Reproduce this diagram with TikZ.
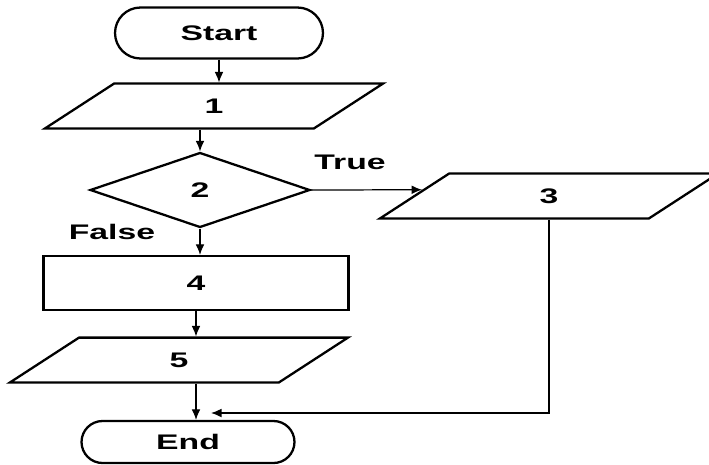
\documentclass[tikz,border=0pt]{standalone}
\usepackage{fontspec}
\newfontfamily\flowfont{Liberation Sans}[FakeStretch=1.6]
\usetikzlibrary{shapes.geometric,shapes.misc,arrows.meta,calc}

\begin{document}
\begin{tikzpicture}[x=0.02cm, y=0.02cm,
  every node/.style={font=\flowfont\bfseries\fontsize{12}{14}\selectfont, inner sep=0pt},
  term/.style={draw, line width=1.3pt, rounded rectangle, minimum width=4.16cm, minimum height=1.02cm},
  io/.style={draw, line width=1.3pt, trapezium, trapezium left angle=33, trapezium right angle=147,
    trapezium stretches body, text height=9pt, text depth=0pt, inner ysep=8.25pt, minimum width=6.76cm},
  decision/.style={draw, line width=1.3pt, diamond, minimum width=4.4cm, minimum height=1.5cm},
  process/.style={draw, line width=1.3pt, rectangle, minimum width=6.1cm, minimum height=1.08cm},
  arr/.style={line width=0.7pt, -{Latex[length=6pt,width=5pt]}}]
\useasboundingbox (0,0) rectangle (709,-464);
% boxes
\node [term] (start) at (219,-33) {Start};
\node [io] (in1) at (214,-106) {1};
\node [decision] (cond) at (200,-190) {2};
\node [io] (out3) at (549,-196) {3};
\node [process] (proc4) at (196,-283) {4};
\node [io] (out5) at (179,-360) {5};
\node [term, minimum width=4.26cm, minimum height=0.84cm] (stop) at (188,-442) {End};
% labels
\node (true) at (350,-162) {True};
\node (false) at (112,-232) {False};
% connectors
\draw [arr] (start.south) -- (start.south |- in1.north);
\draw [arr] (cond.north |- in1.south) -- (cond.north);
\coordinate (hit3) at ($(out3.bottom left corner)!0.633!(out3.top left corner)$);
\draw [arr] (cond.east) -- (hit3);
\draw [arr] (cond.south) -- (cond.south |- proc4.north);
\draw [arr] (proc4.south) -- (proc4.south |- out5.north);
\draw [arr] (proc4.south |- out5.south) -- (proc4.south |- stop.north);
\coordinate (merge) at (211,-413);
\draw [arr] (out3.south) |- (merge);
\end{tikzpicture}
\end{document}
